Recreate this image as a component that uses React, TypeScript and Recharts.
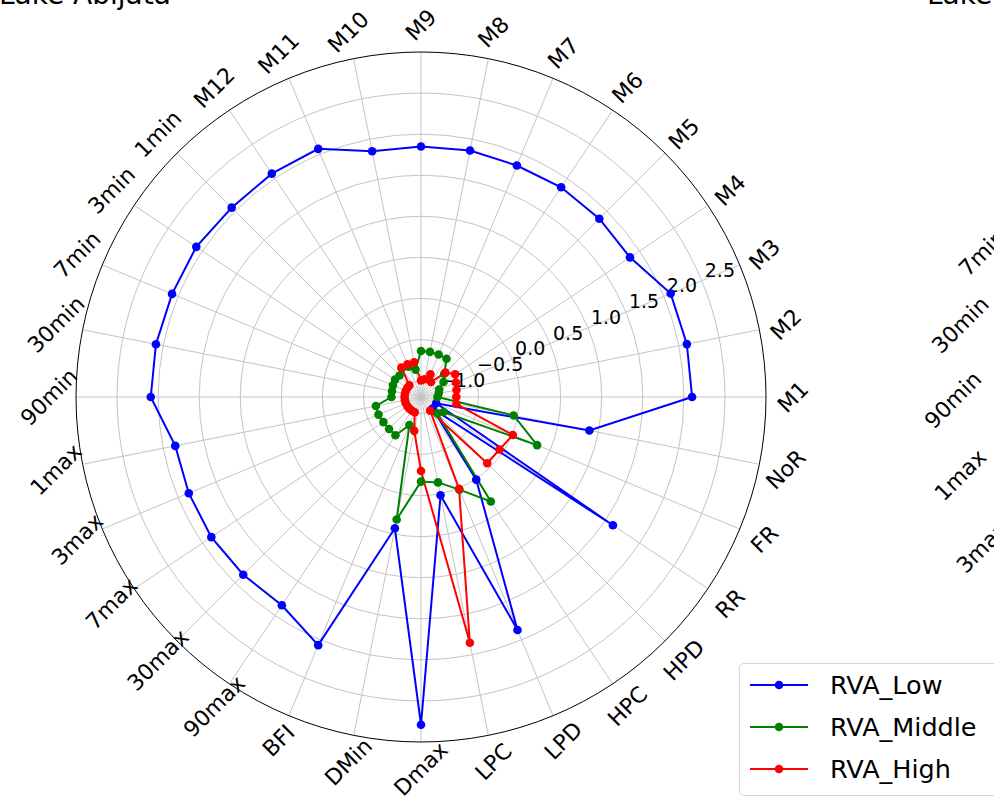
import { RadarChart, Radar, PolarGrid, PolarAngleAxis, PolarRadiusAxis } from "recharts";

const categories = [
  "M1", "M2", "M3", "M4", "M5", "M6", "M7", "M8", "M9", "M10", "M11", "M12",
  "1min", "3min", "7min", "30min", "90min",
  "1max", "3max", "7max", "30max", "90max",
  "BFI", "DMin", "Dmax", "LPC", "LPD", "HPC", "HPD", "RR", "FR", "NoR",
];

const rvaLow = [
  2.1, 2.1, 2.09, 1.86, 1.87, 1.87, 1.85, 1.86, 1.85, 1.85, 2.07, 2.07,
  2.06, 2.09, 2.08, 2.09, 2.09,
  1.85, 1.86, 1.87, 1.86, 1.85,
  2.07, 0.43, 2.79, 0.02, 1.87, 0.01, -1.0, 1.61, -1.0, 0.89,
];

const rvaMiddle = [
  -1.0, -0.98, -0.96, -0.87, -0.8, -0.64, -0.64, -0.64, -0.64, -0.86, -0.8, -0.78,
  -0.83, -0.82, -0.83, -0.84, -0.84,
  -0.64, -0.64, -0.65, -0.65, -0.64,
  -0.83, 0.32, -0.17, -0.14, 0.02, 0.33, -0.92, -0.87, 0.33, -0.05,
];

const rvaHigh = [
  -0.77, -0.76, -0.74, -0.7, -0.78, -0.98, -0.9, -0.98, -1.0, -0.77, -0.77, -0.77,
  -1.0, -1.0, -1.0, -1.0, -1.0,
  -1.0, -1.0, -1.0, -1.0, -1.0,
  -1.0, -0.78, -0.3, 1.85, 0.01, -1.0, -0.06, -0.05, 0.01, -0.76,
];

const radiusTicks = [-1.0, -0.5, 0.0, 0.5, 1.0, 1.5, 2.0, 2.5];

// labels of the next subplot, cut off at the right edge
const neighbourLabels = ["7min", "30min", "90min", "1max", "3max"];
const neighbourAngles = [157.5, 168.75, 180, 191.25, 202.5];

const series = [
  { key: "low", name: "RVA_Low", color: "#0000ff" },
  { key: "middle", name: "RVA_Middle", color: "#008000" },
  { key: "high", name: "RVA_High", color: "#ff0000" },
];

// numeric angle position so spokes, labels and points share the same angles
const angleTicks = categories.map((_, i) => i);

const data = categories.map((name, i) => ({
  idx: i,
  name,
  low: rvaLow[i],
  middle: rvaMiddle[i],
  high: rvaHigh[i],
}));

const FONT = "DejaVu Sans";

function AngleTick(props: any) {
  const { x, y, payload } = props;
  return (
    <text
      x={x}
      y={y}
      transform={`rotate(-45 ${x} ${y})`}
      textAnchor="middle"
      dominantBaseline="central"
      fontSize={22}
      fontFamily={FONT}
      fill="#000"
    >
      {categories[payload.value]}
    </text>
  );
}

function RadiusTick(props: any) {
  const { x, y, payload } = props;
  const label = Number(payload.value).toFixed(1).replace("-", "\u2212");
  return (
    <text
      x={x + 3}
      y={y - 11}
      textAnchor="start"
      dominantBaseline="central"
      fontSize={19}
      fontFamily={FONT}
      fill="#000"
    >
      {label}
    </text>
  );
}

export default function App() {
  const cx2 = 1338;
  const cy2 = 400;
  const r2 = 385;
  return (
    <div
      style={{
        position: "absolute",
        left: 0,
        top: 0,
        width: 994,
        height: 806,
        overflow: "hidden",
        background: "#fff",
        fontFamily: FONT,
      }}
    >
      <RadarChart
        width={994}
        height={806}
        data={data}
        cx={421}
        cy={397}
        innerRadius={0}
        outerRadius={345}
        startAngle={0}
        endAngle={360}
        margin={{ top: 0, right: 0, bottom: 0, left: 0 }}
      >
        <PolarGrid gridType="circle" stroke="#c4c4c4" strokeWidth={1} />
        <PolarAngleAxis
          dataKey="idx"
          type="number"
          domain={[0, categories.length]}
          ticks={angleTicks}
          axisLineType="circle"
          axisLine={{ stroke: "#000", strokeWidth: 1 }}
          tickLine={false}
          tickSize={27}
          tick={AngleTick}
        />
        <PolarRadiusAxis
          type="number"
          angle={22.5}
          domain={[-1.2, 3]}
          ticks={radiusTicks}
          tick={RadiusTick}
          axisLine={false}
          tickLine={false}
          allowDataOverflow
        />
        {series.map((s) => (
          <Radar
            key={s.key}
            name={s.name}
            dataKey={s.key}
            stroke={s.color}
            strokeWidth={2}
            fill="none"
            fillOpacity={0}
            dot={{ r: 4.3, fill: s.color, stroke: s.color, strokeWidth: 0, fillOpacity: 1 }}
            activeDot={false}
            isAnimationActive={false}
          />
        ))}
      </RadarChart>

      <svg
        width={994}
        height={806}
        style={{ position: "absolute", left: 0, top: 0, pointerEvents: "none" }}
      >
        <text x={-1} y={4} fontSize={28} fontFamily={FONT} fill="#000">
          Lake Abijata
        </text>
        <text x={927} y={4} fontSize={28} fontFamily={FONT} fill="#000">
          Lake
        </text>
        {neighbourLabels.map((label, i) => {
          const a = (neighbourAngles[i] * Math.PI) / 180;
          const x = cx2 + r2 * Math.cos(a);
          const y = cy2 - r2 * Math.sin(a);
          return (
            <text
              key={label}
              x={x}
              y={y}
              transform={`rotate(-45 ${x} ${y})`}
              textAnchor="middle"
              dominantBaseline="central"
              fontSize={22}
              fontFamily={FONT}
              fill="#000"
            >
              {label}
            </text>
          );
        })}
      </svg>

      <div
        style={{
          position: "absolute",
          left: 739,
          top: 663,
          width: 280,
          height: 133,
          border: "1px solid #d6d6d6",
          borderRadius: 5,
          background: "rgba(255,255,255,0.8)",
          boxSizing: "border-box",
        }}
      >
        {series.map((s, i) => (
          <div
            key={s.key}
            style={{
              position: "absolute",
              left: 0,
              top: i * 42,
              height: 42,
              display: "flex",
              alignItems: "center",
            }}
          >
            <svg width={90} height={42}>
              <line x1={10} y1={21} x2={68} y2={21} stroke={s.color} strokeWidth={2} />
              <circle cx={39} cy={21} r={4.3} fill={s.color} />
            </svg>
            <span style={{ fontSize: 25.5, fontFamily: FONT, color: "#000", lineHeight: "42px" }}>
              {s.name}
            </span>
          </div>
        ))}
      </div>
    </div>
  );
}
